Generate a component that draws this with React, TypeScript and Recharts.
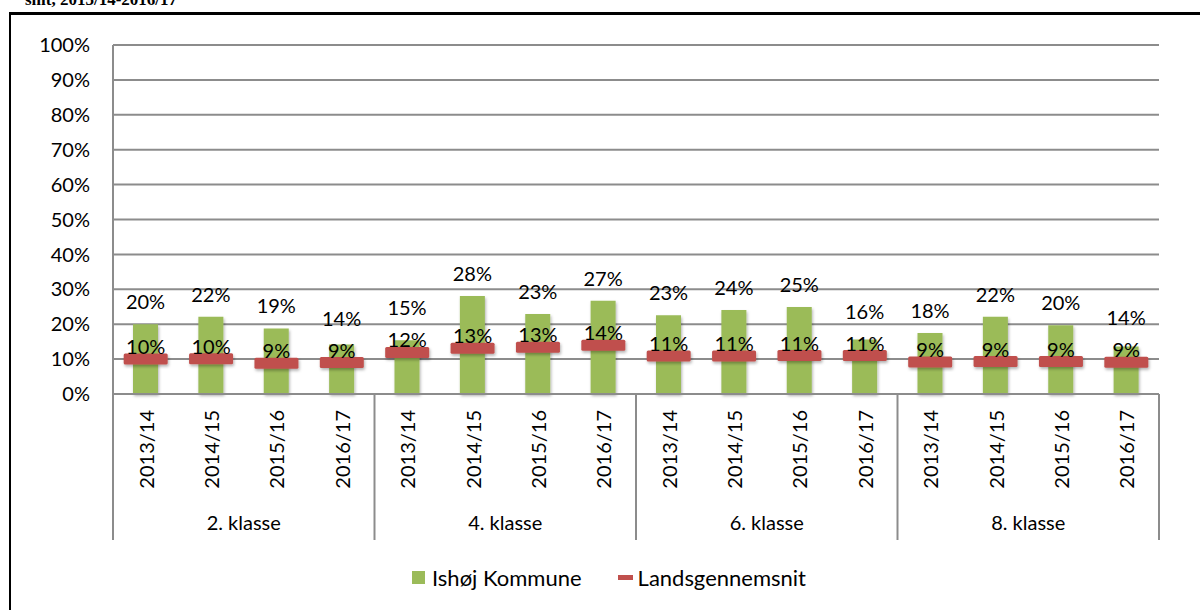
import React from "react";
import {
  ComposedChart,
  Bar,
  Line,
  XAxis,
  YAxis,
  CartesianGrid,
  Legend,
  LabelList,
} from "recharts";

const GROUPS = ["2. klasse", "4. klasse", "6. klasse", "8. klasse"];
const YEARS = ["2013/14", "2014/15", "2015/16", "2016/17"];
// Ishøj Kommune, per group and school year
const ISHOJ = [20.0, 22.1, 18.8, 14.2, 15.4, 28.1, 22.9, 26.7, 22.6, 24.1, 24.9, 15.6, 17.5, 22.1, 19.7, 13.6];
// Landsgennemsnit
const LANDS = [10.0, 10.1, 8.8, 9.0, 11.9, 13.1, 13.4, 14.0, 10.9, 10.9, 11.0, 11.0, 9.2, 9.3, 9.3, 9.1];
const Y_TICKS = [0, 10, 20, 30, 40, 50, 60, 70, 80, 90, 100];

const data = GROUPS.flatMap((group, gi) =>
  YEARS.map((year, yi) => {
    const i = gi * YEARS.length + yi;
    return { key: `${group}|${year}`, group, year, ishoj: ISHOJ[i], land: LANDS[i] };
  })
);

const W = 1200;
const H = 610;
const MARGIN = { top: 45, right: 41, bottom: 0, left: 0 };
const Y_AXIS_W = 113;
const X_AXIS_H = 150;
const LEGEND_H = 66;
const BAND = (W - MARGIN.left - MARGIN.right - Y_AXIS_W) / data.length;

const FONT = "Lato, 'Open Sans', sans-serif";
const GREEN = "#9BBB59";
const RED = "#C0504D";
const GRID = "#8c8c8c";

function CategoryTick(props: any) {
  const { x, y, index } = props;
  const d = data[index];
  if (!d) return null;
  const sepBottom = y + 146;
  return (
    <g>
      <text
        x={x}
        y={y + 16}
        transform={`rotate(-90, ${x}, ${y + 16})`}
        textAnchor="end"
        dominantBaseline="central"
        fontSize={20}
        fontFamily={FONT}
        fill="#000"
      >
        {d.year}
      </text>
      {index % YEARS.length === 0 && (
        <>
          <line x1={x - BAND / 2} x2={x - BAND / 2} y1={y} y2={sepBottom} stroke={GRID} strokeWidth={2} />
          <text
            x={x + BAND * 1.5}
            y={y + 136}
            textAnchor="middle"
            fontSize={20}
            fontFamily={FONT}
            fill="#000"
          >
            {d.group}
          </text>
        </>
      )}
      {index === data.length - 1 && (
        <line x1={x + BAND / 2} x2={x + BAND / 2} y1={y} y2={sepBottom} stroke={GRID} strokeWidth={2} />
      )}
    </g>
  );
}

function BarValueLabel(props: any) {
  const { x, y, width, height, value, index } = props;
  const base = Number(y) + Number(height);
  const perUnit = Number(height) / Number(value);
  const lineY = base - LANDS[index] * perUnit;
  const cy = Math.min(Number(y) - 22, lineY - 44);
  return (
    <text
      x={Number(x) + Number(width) / 2}
      y={cy + 7}
      textAnchor="middle"
      fontSize={20}
      fontFamily={FONT}
      fill="#000"
    >
      {Math.round(value)}%
    </text>
  );
}

function LineValueLabel(props: any) {
  const { x, y, value } = props;
  return (
    <text x={x} y={Number(y) - 5} textAnchor="middle" fontSize={20} fontFamily={FONT} fill="#000">
      {Math.round(value)}%
    </text>
  );
}

function MarkDot(props: any) {
  const { cx, cy, index } = props;
  if (cx == null || cy == null) return null;
  return (
    <rect
      key={`mark-${index}`}
      x={cx - 22}
      y={cy - 5.5}
      width={44}
      height={11}
      rx={1.5}
      fill={RED}
      filter="url(#softShadow)"
    />
  );
}

function LegendContent() {
  return (
    <div
      style={{
        display: "flex",
        alignItems: "center",
        height: LEGEND_H,
        paddingLeft: 412,
        fontFamily: FONT,
        fontSize: 22,
        color: "#000",
      }}
    >
      <span style={{ width: 13, height: 13, background: GREEN, marginRight: 7 }} />
      <span>Ishøj Kommune</span>
      <span style={{ width: 15, height: 5, background: RED, marginLeft: 36, marginRight: 5 }} />
      <span>Landsgennemsnit</span>
    </div>
  );
}

export default function App() {
  return (
    <div
      style={{
        position: "absolute",
        left: 0,
        top: 0,
        width: W,
        height: H,
        background: "#fff",
        overflow: "hidden",
      }}
    >
      <div
        style={{
          position: "absolute",
          left: 25,
          top: -9,
          fontFamily: "'Liberation Serif', 'Times New Roman', serif",
          fontWeight: "bold",
          fontSize: 17,
          lineHeight: "17px",
          whiteSpace: "nowrap",
        }}
      >
        snit, 2013/14-2016/17
      </div>
      <div
        style={{
          position: "absolute",
          left: 9,
          top: 12,
          width: W,
          height: H,
          borderTop: "3px solid #000",
          borderLeft: "2px solid #000",
        }}
      />
      <ComposedChart width={W} height={H} data={data} margin={MARGIN}>
        <defs>
          <filter id="softShadow" x="-20%" y="-30%" width="140%" height="170%">
            <feDropShadow dx="1" dy="2" stdDeviation="1.5" floodColor="#000" floodOpacity="0.3" />
          </filter>
        </defs>
        <CartesianGrid vertical={false} stroke={GRID} strokeWidth={2} />
        <XAxis
          dataKey="key"
          interval={0}
          height={X_AXIS_H}
          axisLine={{ stroke: GRID, strokeWidth: 2 }}
          tickLine={false}
          tickSize={0}
          tickMargin={0}
          tick={<CategoryTick />}
        />
        <YAxis
          width={Y_AXIS_W}
          domain={[0, 100]}
          ticks={Y_TICKS}
          tickFormatter={(v: number) => `${v}%`}
          axisLine={{ stroke: GRID, strokeWidth: 2 }}
          tickLine={false}
          tickSize={0}
          tickMargin={23}
          tick={{ fill: "#000", fontSize: 20, fontFamily: FONT }}
        />
        <Legend verticalAlign="bottom" height={LEGEND_H} content={<LegendContent />} />
        <Bar
          dataKey="ishoj"
          name="Ishøj Kommune"
          fill={GREEN}
          barSize={25}
          filter="url(#softShadow)"
          isAnimationActive={false}
        >
          <LabelList dataKey="ishoj" content={<BarValueLabel />} />
        </Bar>
        <Line
          dataKey="land"
          name="Landsgennemsnit"
          stroke="none"
          dot={<MarkDot />}
          activeDot={false}
          isAnimationActive={false}
        >
          <LabelList dataKey="land" content={<LineValueLabel />} />
        </Line>
      </ComposedChart>
    </div>
  );
}
